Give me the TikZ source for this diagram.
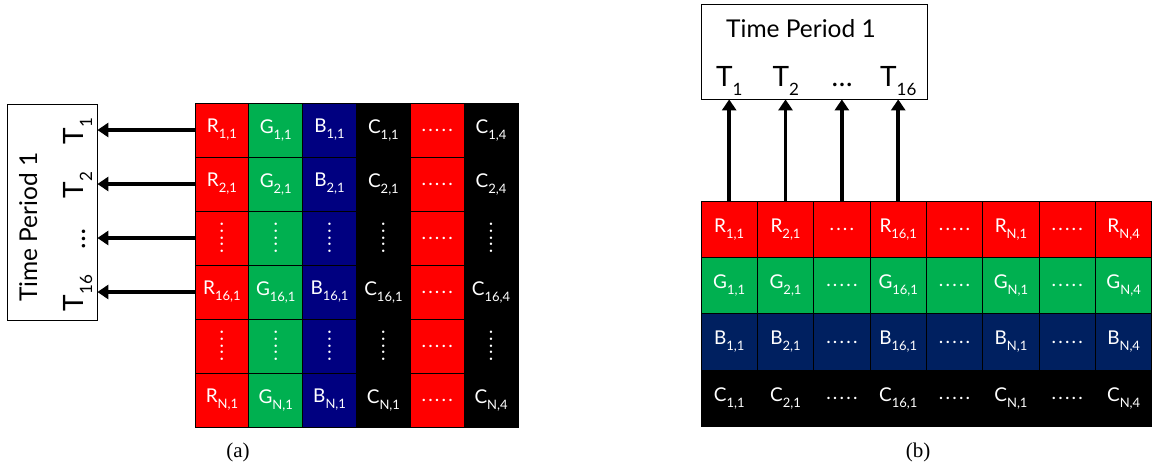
\documentclass[tikz,border=0pt]{standalone}
\usepackage{fontspec}
\usepackage{graphicx}
\setmainfont{Lato}
\newfontfamily\capfont{Liberation Serif}
\usetikzlibrary{arrows.meta}
\definecolor{cred}{HTML}{FF0000}
\definecolor{cgreen}{HTML}{00B050}
\definecolor{cblueA}{HTML}{000080}
\definecolor{cblueB}{HTML}{002060}
\newcommand{\lb}[2]{#1\raisebox{-6pt}{\fontsize{13}{14}\selectfont #2}}
\newcommand{\Tl}[2]{#1\raisebox{-9pt}{\fontsize{17}{18}\selectfont #2}}
\newcommand{\hd}{.\kern2.2pt.\kern2.2pt.\kern2.2pt.\kern2.2pt.}
\newcommand{\hdf}{.\kern2.2pt.\kern2.2pt.\kern2.2pt.}
\newcommand{\vd}{\rotatebox{90}{\hd}}
\tikzset{
  cellA/.style={draw=black, line width=0.8pt, minimum width=53.83pt, minimum height=54pt, inner sep=0pt, text=white, font=\fontsize{19}{20}\selectfont},
  cellB/.style={draw=black, line width=0.8pt, minimum width=56.35pt, minimum height=56.4pt, inner sep=0pt, text=white, font=\fontsize{19}{20}\selectfont},
  arr/.style={line width=3.5pt, -{Triangle[length=11pt,width=14pt]}},
  tbox/.style={draw=black, line width=0.8pt, inner sep=0pt},
  tlab/.style={font=\fontsize{24.5}{26}\selectfont, anchor=base, inner sep=0pt},
  tsub/.style={font=\fontsize{28}{30}\selectfont, anchor=base, inner sep=0pt},
  captxt/.style={font=\capfont\fontsize{21}{23}\selectfont}
}
\newcommand{\cA}[4]{\node[cellA, fill=#3] (a-#1-#2) at ({195+26.915+53.83*(#2-1)}, {103+27+54*(#1-1)}) {#4};}
\newcommand{\cB}[4]{\node[cellB, fill=#3] (b-#1-#2) at ({701+28.175+56.35*(#2-1)}, {201+28.2+56.4*(#1-1)}) {#4};}
\begin{document}
\begin{tikzpicture}[x=1pt,y=-1pt]
\useasboundingbox (0,0) rectangle (1153,471);
% ---------- (a) grid ----------
\cA{1}{1}{cred}{\lb{R}{1,1}}
\cA{1}{2}{cgreen}{\lb{G}{1,1}}
\cA{1}{3}{cblueA}{\lb{B}{1,1}}
\cA{1}{4}{black}{\lb{C}{1,1}}
\cA{1}{5}{cred}{\hd}
\cA{1}{6}{black}{\lb{C}{1,4}}
\cA{2}{1}{cred}{\lb{R}{2,1}}
\cA{2}{2}{cgreen}{\lb{G}{2,1}}
\cA{2}{3}{cblueA}{\lb{B}{2,1}}
\cA{2}{4}{black}{\lb{C}{2,1}}
\cA{2}{5}{cred}{\hd}
\cA{2}{6}{black}{\lb{C}{2,4}}
\cA{3}{1}{cred}{\vd}
\cA{3}{2}{cgreen}{\vd}
\cA{3}{3}{cblueA}{\vd}
\cA{3}{4}{black}{\vd}
\cA{3}{5}{cred}{\hd}
\cA{3}{6}{black}{\vd}
\cA{4}{1}{cred}{\lb{R}{16,1}}
\cA{4}{2}{cgreen}{\lb{G}{16,1}}
\cA{4}{3}{cblueA}{\lb{B}{16,1}}
\cA{4}{4}{black}{\lb{C}{16,1}}
\cA{4}{5}{cred}{\hd}
\cA{4}{6}{black}{\lb{C}{16,4}}
\cA{5}{1}{cred}{\vd}
\cA{5}{2}{cgreen}{\vd}
\cA{5}{3}{cblueA}{\vd}
\cA{5}{4}{black}{\vd}
\cA{5}{5}{cred}{\hd}
\cA{5}{6}{black}{\vd}
\cA{6}{1}{cred}{\lb{R}{N,1}}
\cA{6}{2}{cgreen}{\lb{G}{N,1}}
\cA{6}{3}{cblueA}{\lb{B}{N,1}}
\cA{6}{4}{black}{\lb{C}{N,1}}
\cA{6}{5}{cred}{\hd}
\cA{6}{6}{black}{\lb{C}{N,4}}
% ---------- (a) box ----------
\node[tbox, minimum width=90pt, minimum height=216pt] (boxL) at (52,212) {};
\node[tlab, rotate=90] (tpL) at (37,227) {Time Period 1};
\node[tsub, rotate=90] (tL1) at (83,131) {\Tl{T}{1}};
\node[tsub, rotate=90] (tL2) at (83,185) {\Tl{T}{2}};
\node[tsub, rotate=90] (tL3) at (85,239) {\ldots};
\node[tsub, rotate=90] (tL4) at (83,293) {\Tl{T}{16}};
\foreach \r in {1,2,3,4}{\draw[arr] (a-\r-1.west) -- (a-\r-1.west -| boxL.east);}
% ---------- (b) grid ----------
\cB{1}{1}{cred}{\lb{R}{1,1}}
\cB{1}{2}{cred}{\lb{R}{2,1}}
\cB{1}{3}{cred}{\hdf}
\cB{1}{4}{cred}{\lb{R}{16,1}}
\cB{1}{5}{cred}{\hd}
\cB{1}{6}{cred}{\lb{R}{N,1}}
\cB{1}{7}{cred}{\hd}
\cB{1}{8}{cred}{\lb{R}{N,4}}
\cB{2}{1}{cgreen}{\lb{G}{1,1}}
\cB{2}{2}{cgreen}{\lb{G}{2,1}}
\cB{2}{3}{cgreen}{\hd}
\cB{2}{4}{cgreen}{\lb{G}{16,1}}
\cB{2}{5}{cgreen}{\hd}
\cB{2}{6}{cgreen}{\lb{G}{N,1}}
\cB{2}{7}{cgreen}{\hd}
\cB{2}{8}{cgreen}{\lb{G}{N,4}}
\cB{3}{1}{cblueB}{\lb{B}{1,1}}
\cB{3}{2}{cblueB}{\lb{B}{2,1}}
\cB{3}{3}{cblueB}{\hd}
\cB{3}{4}{cblueB}{\lb{B}{16,1}}
\cB{3}{5}{cblueB}{\hd}
\cB{3}{6}{cblueB}{\lb{B}{N,1}}
\cB{3}{7}{cblueB}{\hd}
\cB{3}{8}{cblueB}{\lb{B}{N,4}}
\cB{4}{1}{black}{\lb{C}{1,1}}
\cB{4}{2}{black}{\lb{C}{2,1}}
\cB{4}{3}{black}{\hd}
\cB{4}{4}{black}{\lb{C}{16,1}}
\cB{4}{5}{black}{\hd}
\cB{4}{6}{black}{\lb{C}{N,1}}
\cB{4}{7}{black}{\hd}
\cB{4}{8}{black}{\lb{C}{N,4}}
% ---------- (b) box ----------
\node[tbox, minimum width=225.6pt, minimum height=94.3pt] (boxR) at (814.5,51.85) {};
\node[tlab] (tpR) at (801,37) {Time Period 1};
\node[tsub] (tR1) at (729.4,86) {\Tl{T}{1}};
\node[tsub] (tR2) at (785.7,86) {\Tl{T}{2}};
\node[tsub] (tR3) at (842,86) {\ldots};
\node[tsub] (tR4) at (898.3,86) {\Tl{T}{16}};
\foreach \c in {1,2,3,4}{\draw[arr] (b-1-\c.north) -- (b-1-\c.north |- boxR.south);}
% ---------- captions ----------
\node[captxt] (capA) at (238,452) {(a)};
\node[captxt] (capB) at (918,452) {(b)};
\end{tikzpicture}
\end{document}
